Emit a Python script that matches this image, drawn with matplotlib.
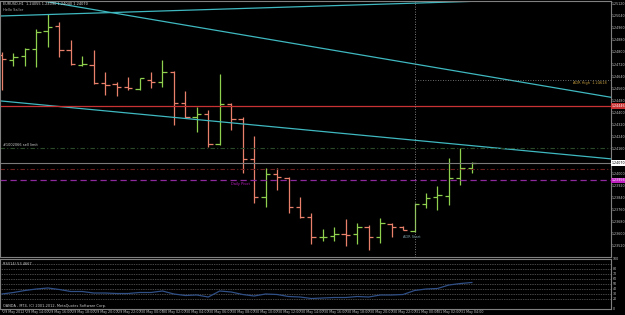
import matplotlib
matplotlib.use("Agg")
import matplotlib.pyplot as plt

W, H = 625, 315

TITLE = "EURUSD,H1  1.24055 1.24090 1.24040 1.24070"
SUBTITLE = "Hello Sailor"
RSI_LABEL = "RSI(14) 53.4667"
COPYRIGHT = "OANDA - MT4, (C) 2001-2012, MetaQuotes Software Corp."

# hourly bars, 29 May 12:00 .. 31 May 05:00
opens = [1.24783, 1.24750, 1.24776, 1.24823, 1.24941, 1.24974, 1.24816, 1.24720,
         1.24717, 1.24595, 1.24592, 1.24569, 1.24559, 1.24618, 1.24605, 1.24671,
         1.24466, 1.24374, 1.24394, 1.24196, 1.24460, 1.24361, 1.24097, 1.23846,
         1.23998, 1.23971, 1.23780, 1.23714, 1.23582, 1.23588, 1.23605, 1.23602,
         1.23648, 1.23582, 1.23668, 1.23648, 1.23621, 1.23800, 1.23846, 1.23852,
         1.23971, 1.24037]
highs = [1.24803, 1.24796, 1.24829, 1.24955, 1.25054, 1.25001, 1.24882, 1.24776,
         1.24816, 1.24671, 1.24605, 1.24638, 1.24631, 1.24671, 1.24750, 1.24674,
         1.24545, 1.24440, 1.24420, 1.24658, 1.24466, 1.24374, 1.24248, 1.24037,
         1.24037, 1.23978, 1.23846, 1.23740, 1.23635, 1.23648, 1.23701, 1.23674,
         1.23661, 1.23707, 1.23674, 1.23654, 1.23806, 1.23872, 1.23918, 1.24103,
         1.24169, 1.24077]
lows = [1.24552, 1.24710, 1.24710, 1.24704, 1.24836, 1.24770, 1.24717, 1.24710,
        1.24592, 1.24519, 1.24512, 1.24552, 1.24552, 1.24565, 1.24572, 1.24321,
        1.24367, 1.24275, 1.24176, 1.24189, 1.24288, 1.24004, 1.23806, 1.23780,
        1.23892, 1.23740, 1.23707, 1.23536, 1.23555, 1.23555, 1.23522, 1.23536,
        1.23496, 1.23542, 1.23582, 1.23628, 1.23615, 1.23773, 1.23760, 1.23793,
        1.23925, 1.24004]
closes = [1.24757, 1.24770, 1.24823, 1.24935, 1.24968, 1.24816, 1.24724, 1.24724,
          1.24598, 1.24588, 1.24572, 1.24562, 1.24628, 1.24605, 1.24671, 1.24466,
          1.24374, 1.24394, 1.24196, 1.24460, 1.24361, 1.24097, 1.23846, 1.23998,
          1.23978, 1.23780, 1.23714, 1.23582, 1.23585, 1.23602, 1.23598, 1.23648,
          1.23582, 1.23674, 1.23648, 1.23628, 1.23800, 1.23839, 1.23859, 1.23971,
          1.24037, 1.24070]
rsi = [30, 33, 37, 40, 42, 39, 35, 35, 32, 32, 31, 31, 33, 33, 36, 30, 27, 28,
       24, 36, 34, 29, 26, 30, 29, 25, 24, 21, 22, 23, 23, 25, 24, 28, 28, 29,
       37, 40, 41, 48, 51, 53]

time_labels = ["29 May 2012", "29 May 14:00", "29 May 16:00", "29 May 18:00",
               "29 May 20:00", "29 May 22:00", "30 May 00:00", "30 May 02:00",
               "30 May 04:00", "30 May 06:00", "30 May 08:00", "30 May 10:00",
               "30 May 12:00", "30 May 14:00", "30 May 16:00", "30 May 18:00",
               "30 May 20:00", "30 May 22:00", "31 May 00:00", "31 May 02:00",
               "31 May 04:00"]

# horizontal levels
resistance = 1.24446
sell_limit = 1.24172
bid = 1.24070
pivot_r = 1.24029
daily_pivot = 1.23956
adr_high = 1.24618
adr_start_bar = 36

# trendlines as (bar, price) pairs
trend_top = [(-0.17, 1.25040), (36.47, 1.25126)]
trend_mid = [(5.06, 1.25120), (46.25, 1.24592)]
trend_low = [(-0.17, 1.24480), (52.36, 1.24103)]

price_ticks = [1.25120, 1.25040, 1.24960, 1.24880, 1.24800, 1.24720, 1.24640,
               1.24560, 1.24480, 1.24400, 1.24320, 1.24240, 1.24160, 1.24000,
               1.23920, 1.23840, 1.23760, 1.23680, 1.23600, 1.23520]
rsi_levels = [20, 30, 40, 50, 60, 70, 80, 90]

BULL = "#8fd14f"
BEAR = "#e8806c"
GREY = "#808080"
FS = 2.5
FS_AX = 2.3

fig = plt.figure(figsize=(W / 100, H / 100), dpi=100, facecolor="black")


def box(x0, y0, x1, y1):
    # pixel box -> figure rect
    return [x0 / W, 1 - y1 / H, (x1 - x0) / W, (y1 - y0) / H]


def extend(line, x0, x1):
    (a, pa), (b, pb) = line
    k = (pb - pa) / (b - a)
    return [x0, x1], [pa + k * (x0 - a), pa + k * (x1 - a)]


ax = fig.add_axes(box(0, 1, 611, 257), facecolor="black")
xlim = (-0.175, 53.14)
ax.set_xlim(*xlim)
ax.set_ylim(1.23450, 1.25139)

for i, (o, h, l, c) in enumerate(zip(opens, highs, lows, closes)):
    col = BULL if c >= o else BEAR
    ax.vlines(i, l, h, color=col, lw=0.9)
    ax.hlines(o, i - 0.38, i, color=col, lw=0.9)
    ax.hlines(c, i, i + 0.38, color=col, lw=0.9)

for line in (trend_top, trend_mid, trend_low):
    xs, ys = extend(line, xlim[0] - 5, xlim[1] + 5)
    ax.plot(xs, ys, color="#3fb8c0", lw=0.9)

ax.axhline(resistance, color="#c83232", lw=0.9)
ax.axhline(sell_limit, color="#2a4a2a", lw=0.8, ls=(0, (4, 2, 1, 2)))
ax.axhline(bid, color="#7a7a7a", lw=0.8)
ax.axhline(pivot_r, color="#6e2020", lw=0.8, ls=(0, (4, 2, 1, 2)))
ax.axhline(daily_pivot, color="#8e2a9e", lw=0.9, ls=(0, (5, 3)))
ax.axvline(adr_start_bar, color="#a0a0a0", lw=0.6, ls=(0, (1, 2)))
ax.hlines(adr_high, adr_start_bar, xlim[1], color="#909090", lw=0.6, ls=(0, (1, 2)))

ax.text(0.1, sell_limit + 0.00004, "#1002066 sell limit", color="#d0d0d0",
        fontsize=FS, va="bottom", ha="left")
ax.text(20.0, daily_pivot - 0.00008, "Daily Pivot", color="#c020c0", fontsize=FS,
        va="top", ha="left")
ax.text(35.0, 1.23582, "ADR Start", color="#7aa0a8", fontsize=FS,
        va="center", ha="left")
ax.text(52.8, adr_high - 0.00005, f"ADR High  {adr_high:.5f}", color="#c8a040",
        fontsize=FS, va="top", ha="right")

ax.set_xticks([])
ax.set_yticks([])
for s in ax.spines.values():
    s.set_color(GREY)
    s.set_linewidth(0.8)

# price scale labels
lo, hi = ax.get_ylim()


def price_y(p):
    return 1 + (hi - p) / (hi - lo) * 256


for p in price_ticks:
    y = price_y(p)
    fig.text(612 / W, 1 - y / H, f"{p:.5f}", color="#c8c8c8", fontsize=FS_AX,
             va="center", ha="left")
for p, bg, fg in ((resistance, "#c83232", "white"), (bid, "white", "black"),
                  (daily_pivot, "#c020c0", "white")):
    fig.text(612 / W, 1 - price_y(p) / H, f"{p:.5f}", color=fg, fontsize=FS_AX,
             va="center", ha="left",
             bbox=dict(facecolor=bg, edgecolor="none", pad=0.4))

fig.text(3 / W, 1 - 4 / H, TITLE, color="#d8d8d8", fontsize=FS, va="center")
fig.text(3 / W, 1 - 10 / H, SUBTITLE, color="#b0b0b0", fontsize=FS, va="center")

# RSI window
rax = fig.add_axes(box(0, 259, 611, 309), facecolor="black")
rax.set_xlim(*xlim)
rax.set_ylim(0, 100)
for lv in rsi_levels:
    rax.axhline(lv, color="#8a8a8a", lw=0.5, ls=(0, (1, 1.5)))
rax.plot(range(len(rsi)), rsi, color="#2f4f86", lw=0.9)
rax.set_xticks([])
rax.set_yticks([])
for s in rax.spines.values():
    s.set_color(GREY)
    s.set_linewidth(0.8)
rax.text(0.005, 0.9, RSI_LABEL, transform=rax.transAxes, color="#d0d0d0",
         fontsize=FS, va="center")
rax.text(0.005, 0.06, COPYRIGHT, transform=rax.transAxes, color="#d0d0d0",
         fontsize=FS, va="center")
for lv in [100, 80, 70, 60, 50, 40, 30, 20, 0]:
    y = 259 + (100 - lv) / 100 * 50
    fig.text(613 / W, 1 - y / H, str(lv), color="#c8c8c8", fontsize=FS_AX,
             va="center")

# time axis
for k, lab in enumerate(time_labels):
    bar = 2 * k
    xp = 2 + bar * 11.46
    fig.text((xp + 1) / W, 1 - 312.5 / H, lab, color="#c8c8c8", fontsize=FS_AX,
             va="center", ha="left")
    fig.lines.append(plt.Line2D([xp / W, xp / W], [1 - 309 / H, 1 - 311 / H],
                                transform=fig.transFigure, color=GREY, lw=0.5))

fig.savefig("out.png", dpi=100, facecolor="black")
